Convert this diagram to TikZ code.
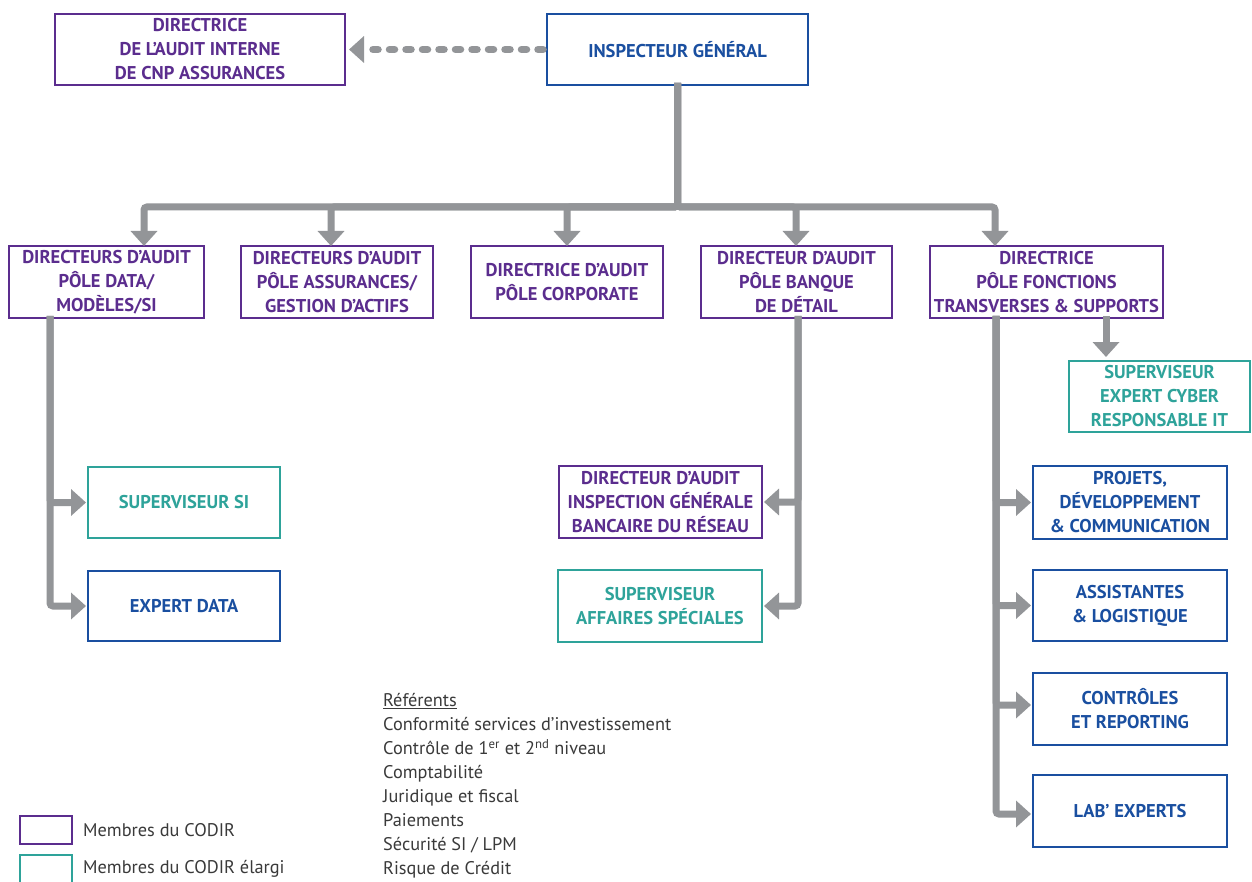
\documentclass[tikz,border=0pt]{standalone}
\usepackage{fontspec}
\setmainfont{PT Sans}
\usetikzlibrary{arrows.meta}
\definecolor{cpurple}{HTML}{5B2D8E}
\definecolor{cblue}{HTML}{1A4FA0}
\definecolor{cteal}{HTML}{2EA39A}
\definecolor{cgray}{HTML}{939598}
\definecolor{ctext}{HTML}{3A3A3A}
\begin{document}
\begin{tikzpicture}[x=1pt,y=-1pt,
  box/.style={draw, line width=2pt, inner sep=0pt, align=center,
    font=\bfseries\fontsize{18.5}{24}\selectfont},
  pbox/.style={box, draw=cpurple, text=cpurple},
  bbox/.style={box, draw=cblue, text=cblue},
  tbox/.style={box, draw=cteal, text=cteal},
  conn/.style={draw=cgray, line width=7pt, rounded corners=3pt,
    -{Triangle[width=26pt,length=15pt]}},
  dotconn/.style={draw=cgray, line width=7.5pt, line cap=round,
    dash pattern=on 5pt off 11.5pt,
    -{Triangle[width=26pt,length=15pt]}},
  plain/.style={text=ctext, font=\fontsize{18.3}{24}\selectfont}
]
\path[use as bounding box, fill=white] (0,0) rectangle (1252,882);

% top
\node[pbox, minimum width=290pt, minimum height=71pt] (dai) at (200,49.5)
  {DIRECTRICE\\DE L’AUDIT INTERNE\\DE CNP ASSURANCES};
\node[bbox, minimum width=261pt, minimum height=71pt] (ig) at (677.5,49.5)
  {INSPECTEUR GÉNÉRAL};

% level 2
\node[pbox, minimum width=195pt, minimum height=72pt] (b1) at (106.5,282)
  {DIRECTEURS D’AUDIT\\PÔLE DATA/\\MODÈLES/SI};
\node[pbox, minimum width=192pt, minimum height=72pt] (b2) at (337,282)
  {DIRECTEURS D’AUDIT\\PÔLE ASSURANCES/\\GESTION D’ACTIFS};
\node[pbox, minimum width=192pt, minimum height=72pt] (b3) at (567,282)
  {DIRECTRICE D’AUDIT\\PÔLE CORPORATE};
\node[pbox, minimum width=191pt, minimum height=72pt] (b4) at (796.5,282)
  {DIRECTEUR D’AUDIT\\PÔLE BANQUE\\DE DÉTAIL};
\node[pbox, minimum width=233pt, minimum height=72pt] (b5) at (1046.5,282)
  {DIRECTRICE\\PÔLE FONCTIONS\\TRANSVERSES \& SUPPORTS};

% level 3
\node[tbox, minimum width=181pt, minimum height=71pt] (cyb) at (1159.5,396.5)
  {SUPERVISEUR\\EXPERT CYBER\\RESPONSABLE IT};
\node[tbox, minimum width=192pt, minimum height=71pt] (ssi) at (184,502.5)
  {SUPERVISEUR SI};
\node[bbox, minimum width=192pt, minimum height=70pt] (ed) at (184,606)
  {EXPERT DATA};
\node[pbox, minimum width=203pt, minimum height=72pt] (dig) at (660.5,502)
  {DIRECTEUR D’AUDIT\\INSPECTION GÉNÉRALE\\BANCAIRE DU RÉSEAU};
\node[tbox, minimum width=204pt, minimum height=72pt] (saf) at (660,606)
  {SUPERVISEUR\\AFFAIRES SPÉCIALES};
\node[bbox, minimum width=194pt, minimum height=73pt] (pdc) at (1130,502.5)
  {PROJETS,\\DÉVELOPPEMENT\\\& COMMUNICATION};
\node[bbox, minimum width=194pt, minimum height=71pt] (asl) at (1130,605.5)
  {ASSISTANTES\\\& LOGISTIQUE};
\node[bbox, minimum width=194pt, minimum height=72pt] (ctr) at (1130,709)
  {CONTRÔLES\\ET REPORTING};
\node[bbox, minimum width=194pt, minimum height=72pt] (lab) at (1130,811)
  {LAB’ EXPERTS};

% connectors
\draw[dotconn] ([xshift=-3pt]ig.west) -- ([xshift=3pt]dai.east);
\coordinate (bus) at (677.5,207);
\draw[conn] ([yshift=3pt]ig.south) -- (bus) -| ([xshift=37.5pt,yshift=-1pt]b1.north);
\draw[conn] ([yshift=3pt]ig.south) -- (bus) -| ([xshift=-6pt,yshift=-1pt]b2.north);
\draw[conn] ([yshift=3pt]ig.south) -- (bus) -| ([yshift=-1pt]b3.north);
\draw[conn] ([yshift=3pt]ig.south) -- (bus) -| ([xshift=-0.5pt,yshift=-1pt]b4.north);
\draw[conn] ([yshift=3pt]ig.south) -- (bus) -| ([xshift=-51.5pt,yshift=-1pt]b5.north);

\draw[conn] ([xshift=-56.5pt,yshift=3pt]b1.south) |- ([xshift=-1pt]ssi.west);
\draw[conn] ([xshift=-56.5pt,yshift=3pt]b1.south) |- ([xshift=-1pt]ed.west);

\draw[conn] ([xshift=1.5pt,yshift=3pt]b4.south) |- ([xshift=1pt]dig.east);
\draw[conn] ([xshift=1.5pt,yshift=3pt]b4.south) |- ([xshift=1pt]saf.east);

\draw[conn] ([xshift=59.5pt,yshift=3pt]b5.south) -- ([xshift=59.5pt,yshift=3pt]b5.south |- cyb.north);

\draw[conn] ([xshift=-50.5pt,yshift=3pt]b5.south) |- ([xshift=-1pt]pdc.west);
\draw[conn] ([xshift=-50.5pt,yshift=3pt]b5.south) |- ([xshift=-1pt,yshift=4pt]ctr.west);
\draw[conn] ([xshift=-50.5pt,yshift=3pt]b5.south) |- ([xshift=-1pt]asl.west);
\draw[conn] ([xshift=-50.5pt,yshift=3pt]b5.south) |- ([xshift=-1pt,yshift=-3pt]lab.west);

% referents
\node[plain, anchor=north west, align=left, inner sep=0pt] (ref) at (383,693)
  {\underline{Référents}\\
   Conformité services d’investissement\\
   Contrôle de 1\textsuperscript{er} et 2\textsuperscript{nd} niveau\\
   Comptabilité\\
   Juridique et fiscal\\
   Paiements\\
   Sécurité SI / LPM\\
   Risque de Crédit};

% legend
\node[draw=cpurple, line width=2pt, minimum width=52pt, minimum height=28pt, inner sep=0pt] (lg1) at (46,830) {};
\node[draw=cteal, line width=2pt, minimum width=52pt, minimum height=30pt, inner sep=0pt] (lg2) at (46,870) {};
\node[plain, anchor=west, inner sep=0pt] (lt1) at (83,830) {Membres du CODIR};
\node[plain, anchor=west, inner sep=0pt] (lt2) at (83,869) {Membres du CODIR élargi};
\end{tikzpicture}
\end{document}
